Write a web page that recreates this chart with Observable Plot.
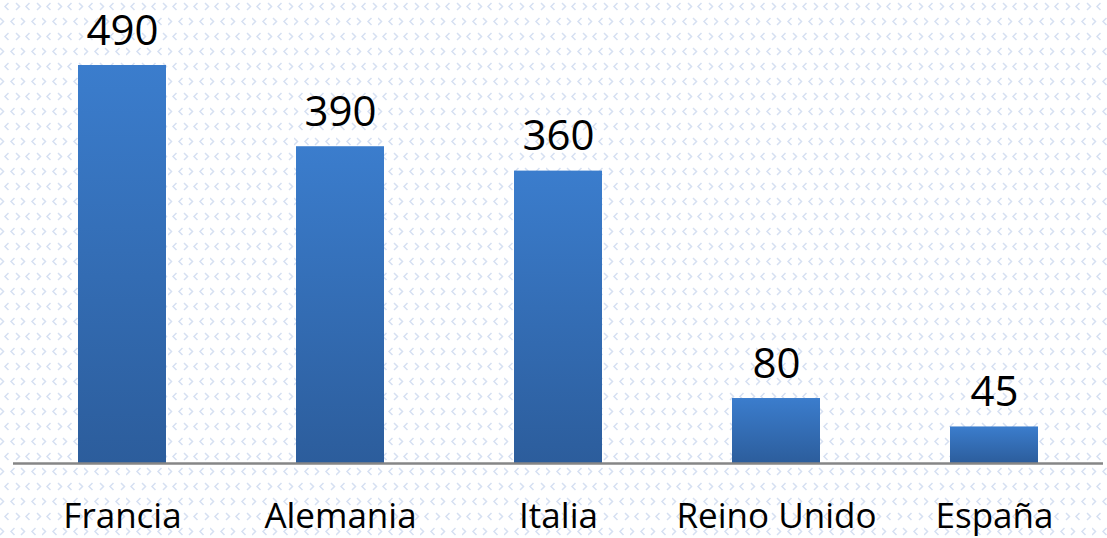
<!DOCTYPE html>
<html>
<head>
<meta charset="utf-8">
<script src="https://cdn.jsdelivr.net/npm/d3@7"></script>
<script src="https://cdn.jsdelivr.net/npm/@observablehq/plot@0.6"></script>
<style>
  html, body { margin: 0; padding: 0; background: #ffffff; }
  #chart svg { display: block; }
</style>
</head>
<body>
<div id="chart"></div>
<script>
const countries = ["Francia", "Alemania", "Italia", "Reino Unido", "España"];
const values = [490, 390, 360, 80, 45];

const data = countries.map((c, i) => ({country: c, value: values[i]}));

const chart = Plot.plot({
  width: 1107,
  height: 538,
  marginTop: 65,
  marginBottom: 75,
  marginLeft: 13,
  marginRight: 4,
  style: {fontFamily: "'Open Sans', sans-serif", background: "transparent", overflow: "visible"},
  x: {domain: countries, padding: 0.596, paddingOuter: 0.298, align: 0.5},
  y: {domain: [0, 490], axis: null},
  marks: [
    Plot.barY(data, {x: "country", y: "value", fill: "url(#barGrad)", style: {filter: "url(#barShadow)"}}),
    Plot.ruleY([0], {stroke: "#868686", strokeWidth: 2.5}),
    Plot.text(data, {x: "country", y: "value", text: d => String(d.value), dy: -21, lineAnchor: "bottom", fontSize: 42, fill: "#000"}),
    Plot.axisX({tickSize: 0, tickPadding: 40, fontSize: 35, color: "#000", label: null})
  ]
});

const svg = d3.select(chart);
const defs = svg.insert("defs", ":first-child");
const grad = defs.append("linearGradient").attr("id", "barGrad").attr("x1", 0).attr("y1", 0).attr("x2", 0).attr("y2", 1);
grad.append("stop").attr("offset", "0%").attr("stop-color", "#3b7dcd");
grad.append("stop").attr("offset", "100%").attr("stop-color", "#2c5d9c");
const f = defs.append("filter").attr("id", "barShadow").attr("x", "-10%").attr("y", "-10%").attr("width", "130%").attr("height", "130%");
f.append("feDropShadow").attr("dx", 2).attr("dy", 2).attr("stdDeviation", 1.5).attr("flood-color", "#000").attr("flood-opacity", 0.25);
const pat = defs.append("pattern").attr("id", "bgPat").attr("patternUnits", "userSpaceOnUse").attr("width", 42).attr("height", 30);
const chev = (g, x, y, dir) => g.append("path")
  .attr("d", dir > 0 ? `M${x},${y} l3.5,3.5 l-3.5,3.5` : `M${x+3.5},${y} l-3.5,3.5 l3.5,3.5`)
  .attr("fill", "none").attr("stroke", "#d6e0f2").attr("stroke-width", 1.5);
chev(pat, 5, 3, -1);
chev(pat, 16, 3, 1);
chev(pat, 26, 3, -1);
chev(pat, 37, 3, 1);
chev(pat, 0, 18, 1);
chev(pat, 11, 18, -1);
chev(pat, 21, 18, 1);
chev(pat, 32, 18, -1);
svg.insert("rect", "defs + *").attr("x", 0).attr("y", 0).attr("width", 1107).attr("height", 538).attr("fill", "url(#bgPat)");

document.getElementById("chart").appendChild(chart);
</script>
</body>
</html>
